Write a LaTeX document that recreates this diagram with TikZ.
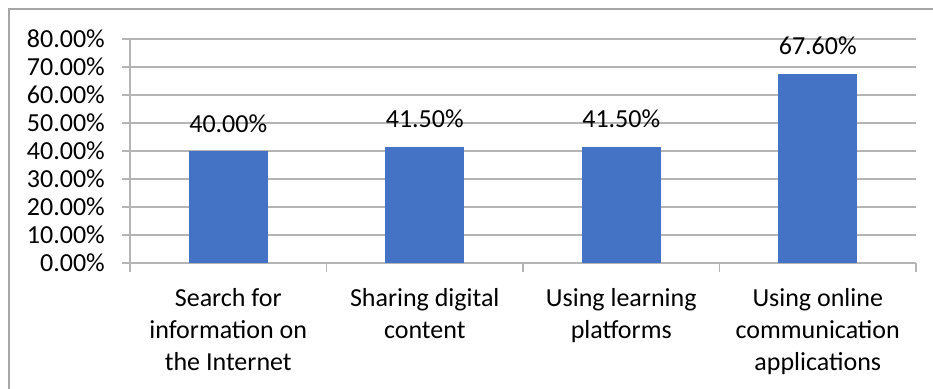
\documentclass[tikz,border=0pt]{standalone}
\usepackage{fontspec}
\setmainfont{Carlito}
\usetikzlibrary{positioning}

\definecolor{barblue}{HTML}{4472C4}
\definecolor{gridgray}{HTML}{B4B4B4}
\definecolor{framegray}{HTML}{A6A6A6}

\begin{document}
\begin{tikzpicture}[x=1pt, y=-1pt, font=\fontsize{26}{32}\selectfont,
  grid/.style={draw=gridgray, line width=1.3pt},
  bar/.style={fill=barblue, draw=none, minimum width=79pt, inner sep=0pt, outer sep=0pt, anchor=south},
  ticklabel/.style={anchor=east, inner sep=0pt},
  valuelabel/.style={inner sep=0pt},
  catlabel/.style={anchor=north, align=center, inner sep=0pt}]
  \useasboundingbox (0,0) rectangle (933,388);
  \clip (0,0) rectangle (933,388);
  % Chart frame (runs off the page on the right and bottom)
  \draw[framegray, line width=1.6pt] (9,9) rectangle (960,420);
  % Gridlines and value axis labels
  \foreach \v in {0,10,...,80} {
    \draw[grid] (122,{263-2.8*\v}) -- (916,{263-2.8*\v});
    \node[ticklabel] (tick\v) at (105,{263-2.8*\v}) {\v.00\%};
  }
  % Axes
  \draw[grid] (130,39) -- (130,263);
  \foreach \x in {130,326.5,523,719.5,916}
    \draw[grid] (\x,263) -- (\x,272);
  % Bars, data labels and categories
  \foreach \i/\val/\txt in {1/40.00/{Search for\\information on\\the Internet},
                            2/41.50/{Sharing digital\\content},
                            3/41.50/{Using learning\\platforms},
                            4/67.60/{Using online\\communication\\applications}} {
    \node[bar, minimum height=2.8*\val pt] (bar\i) at ({130+196.5*(\i-0.5)},263) {};
    \node[valuelabel, above=19pt of bar\i.north, anchor=base] (val\i) {\val\%};
    \node[catlabel] (cat\i) at ({130+196.5*(\i-0.5)},288) {\txt};
  }
\end{tikzpicture}
\end{document}
